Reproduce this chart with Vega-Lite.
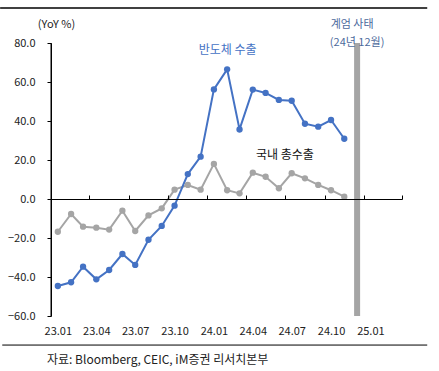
{
  "$schema": "https://vega.github.io/schema/vega-lite/v6.json",
  "width": 351,
  "height": 273,
  "autosize": {"type": "none"},
  "padding": {"left": 51, "top": 43, "right": 37, "bottom": 55},
  "background": "white",
  "config": {
    "view": {"stroke": null},
    "font": "Noto Sans CJK KR",
    "axis": {"labelFont": "Noto Sans CJK KR", "titleFont": "Noto Sans CJK KR"},
    "title": {"font": "Noto Sans CJK KR"}
  },
  "title": {
    "text": "자료: Bloomberg, CEIC, iM증권 리서치본부",
    "orient": "bottom",
    "anchor": "start",
    "frame": "group",
    "fontSize": 12,
    "fontWeight": "normal",
    "color": "#222222",
    "offset": 9,
    "dx": -4
  },
  "datasets": {
    "exports": [
      {"month": "2023-01-01T00:00:00", "series": "국내 총수출", "value": -16.8},
      {"month": "2023-02-01T00:00:00", "series": "국내 총수출", "value": -7.7},
      {"month": "2023-03-01T00:00:00", "series": "국내 총수출", "value": -14.2},
      {"month": "2023-04-01T00:00:00", "series": "국내 총수출", "value": -14.7},
      {"month": "2023-05-01T00:00:00", "series": "국내 총수출", "value": -15.7},
      {"month": "2023-06-01T00:00:00", "series": "국내 총수출", "value": -6.0},
      {"month": "2023-07-01T00:00:00", "series": "국내 총수출", "value": -16.4},
      {"month": "2023-08-01T00:00:00", "series": "국내 총수출", "value": -8.4},
      {"month": "2023-09-01T00:00:00", "series": "국내 총수출", "value": -4.8},
      {"month": "2023-10-01T00:00:00", "series": "국내 총수출", "value": 4.8},
      {"month": "2023-11-01T00:00:00", "series": "국내 총수출", "value": 7.2},
      {"month": "2023-12-01T00:00:00", "series": "국내 총수출", "value": 4.8},
      {"month": "2024-01-01T00:00:00", "series": "국내 총수출", "value": 18.0},
      {"month": "2024-02-01T00:00:00", "series": "국내 총수출", "value": 4.5},
      {"month": "2024-03-01T00:00:00", "series": "국내 총수출", "value": 2.9},
      {"month": "2024-04-01T00:00:00", "series": "국내 총수출", "value": 13.5},
      {"month": "2024-05-01T00:00:00", "series": "국내 총수출", "value": 11.4},
      {"month": "2024-06-01T00:00:00", "series": "국내 총수출", "value": 5.5},
      {"month": "2024-07-01T00:00:00", "series": "국내 총수출", "value": 13.2},
      {"month": "2024-08-01T00:00:00", "series": "국내 총수출", "value": 10.6},
      {"month": "2024-09-01T00:00:00", "series": "국내 총수출", "value": 7.2},
      {"month": "2024-10-01T00:00:00", "series": "국내 총수출", "value": 4.5},
      {"month": "2024-11-01T00:00:00", "series": "국내 총수출", "value": 1.2},
      {"month": "2023-01-01T00:00:00", "series": "반도체 수출", "value": -44.6},
      {"month": "2023-02-01T00:00:00", "series": "반도체 수출", "value": -42.7},
      {"month": "2023-03-01T00:00:00", "series": "반도체 수출", "value": -34.7},
      {"month": "2023-04-01T00:00:00", "series": "반도체 수출", "value": -41.2},
      {"month": "2023-05-01T00:00:00", "series": "반도체 수출", "value": -36.4},
      {"month": "2023-06-01T00:00:00", "series": "반도체 수출", "value": -28.2},
      {"month": "2023-07-01T00:00:00", "series": "반도체 수출", "value": -33.8},
      {"month": "2023-08-01T00:00:00", "series": "반도체 수출", "value": -20.9},
      {"month": "2023-09-01T00:00:00", "series": "반도체 수출", "value": -13.8},
      {"month": "2023-10-01T00:00:00", "series": "반도체 수출", "value": -3.4},
      {"month": "2023-11-01T00:00:00", "series": "반도체 수출", "value": 12.8},
      {"month": "2023-12-01T00:00:00", "series": "반도체 수출", "value": 21.7},
      {"month": "2024-01-01T00:00:00", "series": "반도체 수출", "value": 56.2},
      {"month": "2024-02-01T00:00:00", "series": "반도체 수출", "value": 66.5},
      {"month": "2024-03-01T00:00:00", "series": "반도체 수출", "value": 35.7},
      {"month": "2024-04-01T00:00:00", "series": "반도체 수출", "value": 56.1},
      {"month": "2024-05-01T00:00:00", "series": "반도체 수출", "value": 54.4},
      {"month": "2024-06-01T00:00:00", "series": "반도체 수출", "value": 50.8},
      {"month": "2024-07-01T00:00:00", "series": "반도체 수출", "value": 50.4},
      {"month": "2024-08-01T00:00:00", "series": "반도체 수출", "value": 38.6},
      {"month": "2024-09-01T00:00:00", "series": "반도체 수출", "value": 37.1},
      {"month": "2024-10-01T00:00:00", "series": "반도체 수출", "value": 40.5},
      {"month": "2024-11-01T00:00:00", "series": "반도체 수출", "value": 30.9}
    ],
    "events": [
      {"month": "2024-12-01T00:00:00", "event": "계엄 사태"}
    ]
  },
  "resolve": {"axis": {"x": "independent", "y": "independent"}},
  "layer": [
    {
      "data": {"name": "exports"},
      "mark": {"type": "line", "strokeWidth": 2},
      "encoding": {
        "x": {
          "field": "month",
          "type": "temporal",
          "scale": {"domain": [{"year": 2022, "month": 12, "date": 16}, {"year": 2025, "month": 3, "date": 16}]},
          "axis": {
            "orient": "bottom",
            "values": [
              {"year": 2023, "month": 1, "date": 1},
              {"year": 2023, "month": 4, "date": 1},
              {"year": 2023, "month": 7, "date": 1},
              {"year": 2023, "month": 10, "date": 1},
              {"year": 2024, "month": 1, "date": 1},
              {"year": 2024, "month": 4, "date": 1},
              {"year": 2024, "month": 7, "date": 1},
              {"year": 2024, "month": 10, "date": 1},
              {"year": 2025, "month": 1, "date": 1}
            ],
            "format": "%y.%m",
            "domain": false,
            "ticks": false,
            "grid": false,
            "labelFlush": false,
            "labelPadding": 9,
            "labelFontSize": 11,
            "labelColor": "#222222",
            "title": null
          }
        },
        "y": {
          "field": "value",
          "type": "quantitative",
          "scale": {"domain": [-60, 80], "nice": false, "zero": false},
          "axis": {
            "orient": "left",
            "values": [-60, -40, -20, 0, 20, 40, 60, 80],
            "format": ".1f",
            "labelOverlap": false,
            "domain": true,
            "domainColor": "#000000",
            "domainWidth": 1,
            "ticks": true,
            "tickColor": "#000000",
            "tickWidth": 1,
            "tickSize": 4,
            "labelPadding": 12,
            "grid": false,
            "labelFontSize": 11,
            "labelColor": "#222222",
            "title": "(YoY %)",
            "titleAngle": 0,
            "titleX": 5,
            "titleY": -19,
            "titleAlign": "center",
            "titleBaseline": "middle",
            "titleFontWeight": "normal",
            "titleFontSize": 11,
            "titleColor": "#222222",
            "zindex": 2
          }
        },
        "color": {
          "field": "series",
          "type": "nominal",
          "scale": {"domain": ["국내 총수출", "반도체 수출"], "range": ["#A5A5A5", "#4472C4"]},
          "legend": null
        }
      }
    },
    {
      "data": {"name": "exports"},
      "mark": {"type": "circle", "size": 40, "opacity": 1},
      "encoding": {
        "x": {"field": "month", "type": "temporal", "axis": null},
        "y": {"field": "value", "type": "quantitative", "axis": null},
        "color": {"field": "series", "type": "nominal", "legend": null}
      }
    },
    {
      "data": {"name": "events"},
      "mark": {"type": "rule", "strokeWidth": 6, "color": "#A5A5A5"},
      "encoding": {
        "x": {
          "field": "month",
          "type": "temporal",
          "axis": {
            "orient": "top",
            "offset": -156,
            "values": [
              {"year": 2023, "month": 3, "date": 16},
              {"year": 2023, "month": 6, "date": 16},
              {"year": 2023, "month": 9, "date": 16},
              {"year": 2023, "month": 12, "date": 16},
              {"year": 2024, "month": 3, "date": 16},
              {"year": 2024, "month": 6, "date": 16},
              {"year": 2024, "month": 9, "date": 16},
              {"year": 2024, "month": 12, "date": 16},
              {"year": 2025, "month": 3, "date": 16}
            ],
            "labels": false,
            "ticks": true,
            "tickSize": 4,
            "tickColor": "#000000",
            "domain": true,
            "domainColor": "#000000",
            "domainWidth": 1,
            "grid": false,
            "title": null,
            "zindex": 1
          }
        }
      }
    },
    {
      "data": {"name": "events"},
      "mark": {"type": "rule", "strokeWidth": 1, "color": "#000000"},
      "encoding": {
        "x": {"datum": {"year": 2022, "month": 12, "date": 16}, "type": "temporal", "axis": null}
      }
    },
    {
      "data": {"name": "events"},
      "mark": {"type": "text", "fontSize": 12, "color": "#4472C4", "align": "center", "baseline": "middle"},
      "encoding": {
        "x": {"datum": {"year": 2024, "month": 2, "date": 2}, "type": "temporal", "axis": null},
        "y": {"datum": 76.4, "type": "quantitative", "axis": null},
        "text": {"value": "반도체 수출"}
      }
    },
    {
      "data": {"name": "events"},
      "mark": {"type": "text", "fontSize": 12, "color": "#111111", "align": "center", "baseline": "middle"},
      "encoding": {
        "x": {"datum": {"year": 2024, "month": 6, "date": 15}, "type": "temporal", "axis": null},
        "y": {"datum": 22.6, "type": "quantitative", "axis": null},
        "text": {"value": "국내 총수출"}
      }
    },
    {
      "data": {"name": "events"},
      "mark": {"type": "text", "fontSize": 11, "color": "#4C6A9C", "align": "center", "baseline": "middle", "clip": false, "dx": -5},
      "encoding": {
        "x": {"field": "month", "type": "temporal", "axis": null},
        "y": {"datum": 89.0, "type": "quantitative", "axis": null},
        "text": {"field": "event"}
      }
    },
    {
      "data": {"name": "events"},
      "mark": {"type": "text", "fontSize": 11, "color": "#4C6A9C", "align": "center", "baseline": "middle", "clip": false},
      "encoding": {
        "x": {"field": "month", "type": "temporal", "axis": null},
        "y": {"datum": 80.0, "type": "quantitative", "axis": null},
        "text": {"value": "(24년 12월)"}
      }
    },
    {
      "data": {"name": "events"},
      "mark": {"type": "rule", "strokeWidth": 1.5, "color": "#000000", "clip": false},
      "encoding": {
        "x": {"datum": {"year": 2022, "month": 8, "date": 19}, "type": "temporal", "axis": null},
        "x2": {"datum": {"year": 2025, "month": 5, "date": 14}},
        "y": {"datum": 97.9, "type": "quantitative", "axis": null}
      }
    },
    {
      "data": {"name": "events"},
      "mark": {"type": "rule", "strokeWidth": 1, "color": "#000000", "clip": false},
      "encoding": {
        "x": {"datum": {"year": 2022, "month": 8, "date": 24}, "type": "temporal", "axis": null},
        "x2": {"datum": {"year": 2025, "month": 5, "date": 14}},
        "y": {"datum": -74.9, "type": "quantitative", "axis": null}
      }
    }
  ]
}
